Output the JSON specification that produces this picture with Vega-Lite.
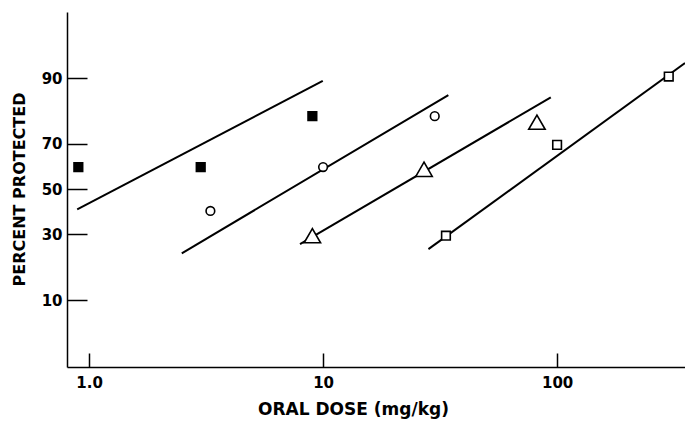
{
  "$schema": "https://vega.github.io/schema/vega-lite/v6.json",
  "width": 618,
  "height": 355,
  "autosize": {"type": "none"},
  "padding": {"left": 67, "top": 12, "right": 0, "bottom": 54},
  "background": "white",
  "config": {
    "view": {"stroke": null},
    "axis": {
      "grid": false,
      "domainColor": "black",
      "domainWidth": 1.5,
      "tickColor": "black",
      "tickWidth": 1.5,
      "labelColor": "black",
      "labelFont": "DejaVu Sans",
      "labelFontWeight": "bold",
      "labelFontSize": 15,
      "titleColor": "black",
      "titleFont": "DejaVu Sans",
      "titleFontWeight": "bold",
      "titleFontSize": 16
    }
  },
  "datasets": {
    "points": [
      {"series": "A", "dose": 0.9, "pct": 60},
      {"series": "A", "dose": 3.0, "pct": 60},
      {"series": "A", "dose": 9.0, "pct": 80},
      {"series": "B", "dose": 3.3, "pct": 40},
      {"series": "B", "dose": 10, "pct": 60},
      {"series": "B", "dose": 30, "pct": 80},
      {"series": "C", "dose": 9.0, "pct": 29.5},
      {"series": "C", "dose": 27, "pct": 59},
      {"series": "C", "dose": 82, "pct": 78},
      {"series": "D", "dose": 33.5, "pct": 29.5},
      {"series": "D", "dose": 100, "pct": 69.5},
      {"series": "D", "dose": 300, "pct": 90.3}
    ],
    "fits": [
      {"series": "A", "dose": 0.89, "pct": 40.7},
      {"series": "A", "dose": 9.97, "pct": 89.4},
      {"series": "B", "dose": 2.49, "pct": 22.9},
      {"series": "B", "dose": 34.3, "pct": 86.1},
      {"series": "C", "dose": 7.97, "pct": 26.2},
      {"series": "C", "dose": 94.0, "pct": 85.5},
      {"series": "D", "dose": 28.2, "pct": 24.4},
      {"series": "D", "dose": 352, "pct": 92.7}
    ]
  },
  "layer": [
    {
      "data": {"name": "fits"},
      "transform": [{"calculate": "quantileNormal(datum.pct / 100)", "as": "probit"}],
      "mark": {"type": "line", "color": "black", "strokeWidth": 2, "clip": true},
      "encoding": {
        "x": {
          "field": "dose",
          "type": "quantitative",
          "scale": {"type": "log", "domain": [0.805, 352], "nice": false},
          "axis": {
            "title": "ORAL DOSE (mg/kg)",
            "titleFontSize": 17,
            "values": [1, 10, 100],
            "labelExpr": "datum.value == 1 ? '1.0' : format(datum.value, 'd')",
            "tickSize": -14,
            "labelPadding": 22,
            "labelBaseline": "top",
            "titleX": 286,
            "titleY": 42,
            "titleBaseline": "middle"
          }
        },
        "y": {
          "field": "probit",
          "type": "quantitative",
          "scale": {"domain": [-2.055, 2.044], "nice": false, "zero": false},
          "axis": {
            "title": "PERCENT PROTECTED",
            "values": [-1.281552, -0.524401, 0, 0.524401, 1.281552],
            "labelExpr": "format(round(cumulativeNormal(datum.value) * 100), 'd')",
            "tickSize": -20,
            "labelPadding": 25,
            "titleX": -48,
            "titleY": 177,
            "titleAngle": -90,
            "titleAlign": "center",
            "titleBaseline": "middle"
          }
        },
        "detail": {"field": "series"}
      }
    },
    {
      "data": {"name": "points"},
      "transform": [
        {"filter": "datum.series != 'C'"},
        {"calculate": "quantileNormal(datum.pct / 100)", "as": "probit"}
      ],
      "mark": {"type": "point", "filled": true, "stroke": "black", "strokeWidth": 1.6, "opacity": 1, "size": 75},
      "encoding": {
        "x": {"field": "dose", "type": "quantitative"},
        "y": {"field": "probit", "type": "quantitative"},
        "shape": {
          "field": "series",
          "scale": {"domain": ["A", "B", "D"], "range": ["square", "circle", "square"]},
          "legend": null
        },
        "fill": {
          "field": "series",
          "scale": {"domain": ["A", "B", "D"], "range": ["black", "white", "white"]},
          "legend": null
        }
      }
    },
    {
      "data": {"name": "points"},
      "transform": [
        {"filter": "datum.series == 'C'"},
        {"calculate": "quantileNormal(datum.pct / 100)", "as": "probit"}
      ],
      "mark": {"type": "point", "shape": "triangle-up", "filled": true, "fill": "white", "stroke": "black", "strokeWidth": 1.6, "opacity": 1, "size": 270},
      "encoding": {
        "x": {"field": "dose", "type": "quantitative"},
        "y": {"field": "probit", "type": "quantitative"}
      }
    }
  ]
}
